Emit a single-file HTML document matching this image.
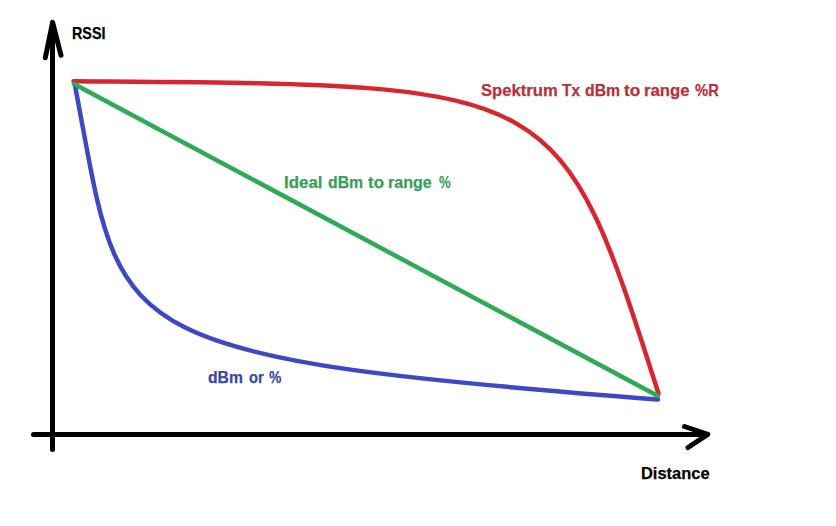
<!DOCTYPE html>
<html><head><meta charset="utf-8"><style>
html,body{margin:0;padding:0;background:#fff;}
body{width:836px;height:526px;overflow:hidden;position:relative;font-family:"Liberation Sans",sans-serif;}
svg{position:absolute;left:0;top:0;}
.t{position:absolute;font-weight:bold;font-size:16.7px;white-space:nowrap;transform-origin:0 0;line-height:1;-webkit-text-stroke:0.25px currentColor;}
.k{color:#000;} .r{color:#b8303a;} .g{color:#3a9e5a;} .b{color:#3a48a8;}
</style></head><body>
<svg width="836" height="526" viewBox="0 0 836 526">
<g fill="none" stroke-linecap="round" stroke-linejoin="round">
<path d="M52.5 23 L52.5 449.5" stroke="#000" stroke-width="5"/>
<path d="M45.3 57.8 L52.6 22.4 L61 55.3" stroke="#000" stroke-width="5"/>
<path d="M33.5 434.5 L707 434.5" stroke="#000" stroke-width="5"/>
<path d="M684.5 426.5 L707.8 434.4 L688 447.5" stroke="#000" stroke-width="5"/>
<path d="M74.5 83 C123.6 337.1 89.6 355.4 658 399.5" stroke="#3c48c4" stroke-width="4.5"/>
<path d="M73.5 81.3 C558.9 85.2 557.9 77.1 658.5 393.5" stroke="#d8262e" stroke-width="4.5"/>
<path d="M74 84 L658 396" stroke="#2eaa55" stroke-width="4.5"/>
</g>
</svg>
<div class="t k" style="left:72.39px;top:25.70px;transform:scaleX(0.8608)">RSSI</div>
<div class="t k" style="left:641.01px;top:465.70px;transform:scaleX(0.9853)">Distance</div>
<div class="t r" style="left:481.20px;top:82.70px;transform:scaleX(0.9961)">Spektrum</div>
<div class="t r" style="left:561.90px;top:82.70px;transform:scaleX(0.9263)">Tx</div>
<div class="t r" style="left:584.90px;top:82.70px;transform:scaleX(0.9472)">dBm</div>
<div class="t r" style="left:624.40px;top:82.70px;transform:scaleX(1.0267)">to</div>
<div class="t r" style="left:644.00px;top:82.70px;transform:scaleX(1.0023)">range</div>
<div class="t r" style="left:694.80px;top:82.70px;transform:scaleX(0.8846)">%R</div>
<div class="t g" style="left:284.19px;top:174.60px;transform:scaleX(1.0111)">Ideal</div>
<div class="t g" style="left:328.30px;top:174.60px;transform:scaleX(0.9472)">dBm</div>
<div class="t g" style="left:367.70px;top:174.60px;transform:scaleX(1.0133)">to</div>
<div class="t g" style="left:388.34px;top:174.60px;transform:scaleX(0.9636)">range</div>
<div class="t g" style="left:438.50px;top:174.60px;transform:scaleX(0.7867)">%</div>
<div class="t b" style="left:207.90px;top:369.70px;transform:scaleX(0.9417)">dBm</div>
<div class="t b" style="left:248.80px;top:369.70px;transform:scaleX(0.8765)">or</div>
<div class="t b" style="left:268.80px;top:369.70px;transform:scaleX(0.8333)">%</div>
</body></html>
